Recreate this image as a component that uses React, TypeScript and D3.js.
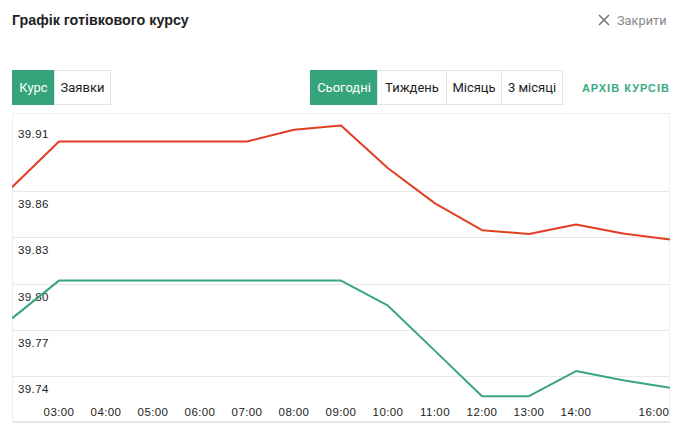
import React from "react";
import * as d3 from "d3";

const hours = [2, 3, 4, 5, 6, 7, 8, 9, 10, 11, 12, 13, 14, 15, 16];
const sellRates = [39.8625, 39.8922, 39.8922, 39.8922, 39.8922, 39.8922, 39.8998, 39.9026, 39.8748, 39.852, 39.8346, 39.8322, 39.8383, 39.8324, 39.8285];
const buyRates = [39.7774, 39.8019, 39.8019, 39.8019, 39.8019, 39.8019, 39.8019, 39.8019, 39.7856, 39.7563, 39.7269, 39.7269, 39.7432, 39.7372, 39.7324];
const yTicks = [39.91, 39.86, 39.83, 39.8, 39.77, 39.74];
const xTickHours = [3, 4, 5, 6, 7, 8, 9, 10, 11, 12, 13, 14, 16];
const leftTabs = ["Курс", "Заявки"];
const periodTabs = ["Сьогодні", "Тиждень", "Місяць", "3 місяці"];

const W = 684, H = 436;
const plot = { left: 12, right: 670, top: 113, bottom: 422 };
const GREEN = "#36a47a";
const RED = "#e23e22";
const FONT = "Roboto, 'Liberation Sans', Arial, sans-serif";
const AXFONT = "'Liberation Sans', Arial, sans-serif";

export default function App() {
  const x = d3.scaleLinear().domain([2, 16]).range([plot.left, plot.right]);
  const y = d3.scaleLinear().domain([39.74, 39.91]).range([376, 114]);
  const line = d3.line<number>().x((_, i) => x(hours[i])).y((d) => y(d));

  const leftW = [42, 56];
  const periodW = [67, 69, 55, 61];
  let lx = 12;
  const leftBtns = leftTabs.map((t, i) => { const b = { t, x: lx, w: leftW[i], active: i === 0 }; lx += leftW[i]; return b; });
  let px = 310;
  const periodBtns = periodTabs.map((t, i) => { const b = { t, x: px, w: periodW[i], active: i === 0 }; px += periodW[i]; return b; });

  return (
    <svg width={W} height={H} style={{ position: "absolute", left: 0, top: 0, background: "#fff" }}>
      <text x={12} y={25} fontFamily={AXFONT} fontWeight="bold" fontSize={14.3} fill="#222">Графік готівкового курсу</text>
      <g stroke="#7a7a7a" strokeWidth={1.6}>
        <line x1={599} y1={15} x2={609} y2={25} />
        <line x1={609} y1={15} x2={599} y2={25} />
      </g>
      <text x={617} y={25} fontFamily={FONT} fontSize={12.8} fill="#888">Закрити</text>

      {[...leftBtns, ...periodBtns].map((b, i) => (
        <g key={i}>
          <rect x={b.x + 0.5} y={70.5} width={b.w} height={34} fill={b.active ? GREEN : "#fff"} stroke={b.active ? GREEN : "#e3e3e3"} />
          <text x={b.x + b.w / 2 + 0.5} y={92} textAnchor="middle" fontFamily={FONT} fontSize={13} fill={b.active ? "#fff" : "#222"}>{b.t}</text>
        </g>
      ))}
      <text x={670} y={92} textAnchor="end" fontFamily={AXFONT} fontWeight="bold" fontSize={11} letterSpacing={1} fill="#3aa97f">АРХІВ КУРСІВ</text>

      <rect x={plot.left + 0.5} y={plot.top + 0.5} width={plot.right - plot.left - 1} height={plot.bottom - plot.top} fill="none" stroke="#efefef" />
      {yTicks.slice(1).map((v) => (
        <line key={v} x1={plot.left} x2={plot.right} y1={Math.round(y(v)) + 0.5} y2={Math.round(y(v)) + 0.5} stroke="#e8e8e8" />
      ))}
      <line x1={plot.left} x2={plot.right} y1={plot.bottom} y2={plot.bottom} stroke="#e6e6e6" strokeWidth={2} />

      {yTicks.map((v, i) => (
        <text key={v} x={18} y={y(v) + (i === 0 ? 24 : 17)} fontFamily={AXFONT} fontSize={11.5} letterSpacing={0.4} fill="#222">{v.toFixed(2)}</text>
      ))}
      {xTickHours.map((h) => {
        const label = `${String(h).padStart(2, "0")}:00`;
        const cx = Math.min(x(h), plot.right - 16);
        return (
          <text key={h} x={cx} y={416} textAnchor="middle" fontFamily={AXFONT} fontSize={11.5} letterSpacing={0.4} fill="#222">{label}</text>
        );
      })}

      <defs>
        <clipPath id="plotClip">
          <rect x={plot.left} y={plot.top} width={plot.right - plot.left} height={plot.bottom - plot.top} />
        </clipPath>
      </defs>
      <g clipPath="url(#plotClip)" fill="none" strokeWidth={2} strokeLinejoin="round">
        <path d={line(sellRates) || ""} stroke={RED} />
        <path d={line(buyRates) || ""} stroke="#3aa57c" />
      </g>
    </svg>
  );
}
